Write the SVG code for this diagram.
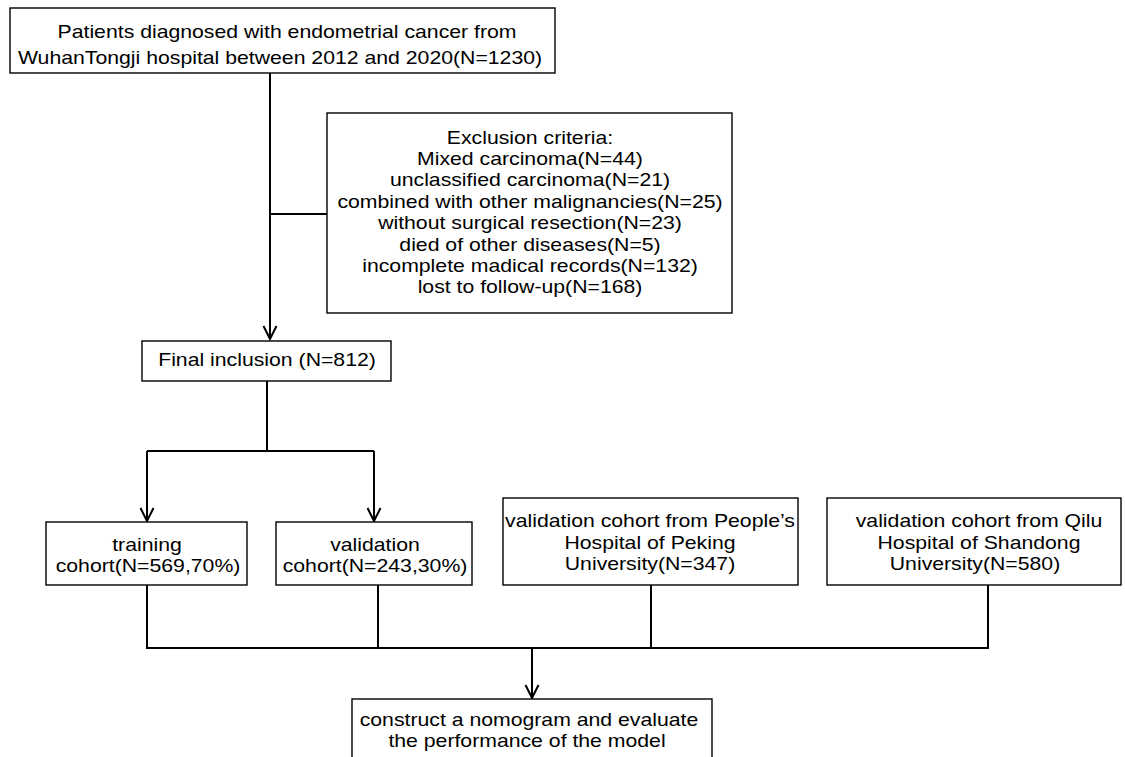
<svg xmlns="http://www.w3.org/2000/svg" width="1125" height="757" viewBox="0 0 1125 757">
<style>
.box{fill:#fff;stroke:#000;stroke-width:1.4}
.t{font-family:"Liberation Sans",Arial,sans-serif;font-size:18px;fill:#000;text-anchor:middle}
.c{fill:none;stroke:#000;stroke-width:2}
</style>
<defs>
<marker id="arr" viewBox="-16 -8 18 16" refX="0" refY="0" markerWidth="18" markerHeight="16" markerUnits="userSpaceOnUse" orient="auto">
<path d="M-13,-6.5 L0,0 L-13,6.5" fill="none" stroke="#000" stroke-width="2"/>
</marker>
</defs>
<rect width="1125" height="757" fill="#fff"/>
<g id="connectors">
<path class="c" d="M270,73 V339" marker-end="url(#arr)"/>
<path class="c" d="M270,214 H327"/>
<path class="c" d="M267,381 V451"/>
<path class="c" d="M147,451 H374"/>
<path class="c" d="M147,451 V521" marker-end="url(#arr)"/>
<path class="c" d="M374,451 V521" marker-end="url(#arr)"/>
<path class="c" d="M147,585 V648"/>
<path class="c" d="M378,585 V648"/>
<path class="c" d="M651,585 V648"/>
<path class="c" d="M988,585 V648"/>
<path class="c" d="M146,648 H989"/>
<path class="c" d="M532,648 V698" marker-end="url(#arr)"/>
</g>
<g id="n-source">
<rect class="box" x="10" y="8" width="545" height="65"/>
<text class="t" transform="translate(287,38) scale(1.18,1)">Patients diagnosed with endometrial cancer from</text>
<text class="t" transform="translate(280,64) scale(1.18,1)">WuhanTongji hospital between 2012 and 2020(N=1230)</text>
</g>
<g id="n-exclusion">
<rect class="box" x="327" y="113" width="405" height="200"/>
<text class="t" transform="translate(530,143.5) scale(1.18,1)">Exclusion criteria:</text>
<text class="t" transform="translate(530,165) scale(1.18,1)">Mixed carcinoma(N=44)</text>
<text class="t" transform="translate(530,186.4) scale(1.18,1)">unclassified carcinoma(N=21)</text>
<text class="t" transform="translate(530,207.8) scale(1.18,1)">combined with other malignancies(N=25)</text>
<text class="t" transform="translate(530,229.2) scale(1.18,1)">without surgical resection(N=23)</text>
<text class="t" transform="translate(530,250.6) scale(1.18,1)">died of other diseases(N=5)</text>
<text class="t" transform="translate(530,272) scale(1.18,1)">incomplete madical records(N=132)</text>
<text class="t" transform="translate(530,293.4) scale(1.18,1)">lost to follow-up(N=168)</text>
</g>
<g id="n-final">
<rect class="box" x="142" y="341" width="249" height="40"/>
<text class="t" transform="translate(267,366) scale(1.18,1)">Final inclusion (N=812)</text>
</g>
<g id="n-training">
<rect class="box" x="46" y="522" width="201" height="63"/>
<text class="t" transform="translate(147,550.5) scale(1.18,1)">training</text>
<text class="t" transform="translate(148,572) scale(1.18,1)">cohort(N=569,70%)</text>
</g>
<g id="n-validation">
<rect class="box" x="276" y="522" width="196" height="63"/>
<text class="t" transform="translate(375,550.5) scale(1.18,1)">validation</text>
<text class="t" transform="translate(375,572) scale(1.18,1)">cohort(N=243,30%)</text>
</g>
<g id="n-peking">
<rect class="box" x="503" y="498" width="295" height="87"/>
<text class="t" transform="translate(650,527) scale(1.18,1)">validation cohort from People’s</text>
<text class="t" transform="translate(650,548.5) scale(1.18,1)">Hospital of Peking</text>
<text class="t" transform="translate(650,570) scale(1.18,1)">University(N=347)</text>
</g>
<g id="n-qilu">
<rect class="box" x="827" y="498" width="294" height="87"/>
<text class="t" transform="translate(979,527) scale(1.18,1)">validation cohort from Qilu</text>
<text class="t" transform="translate(979,548.5) scale(1.18,1)">Hospital of Shandong</text>
<text class="t" transform="translate(975,570) scale(1.18,1)">University(N=580)</text>
</g>
<g id="n-nomogram">
<rect class="box" x="352" y="699" width="360" height="80"/>
<text class="t" transform="translate(529,725.5) scale(1.18,1)">construct a nomogram and evaluate</text>
<text class="t" transform="translate(527,747) scale(1.18,1)">the performance of the model</text>
</g>
</svg>
